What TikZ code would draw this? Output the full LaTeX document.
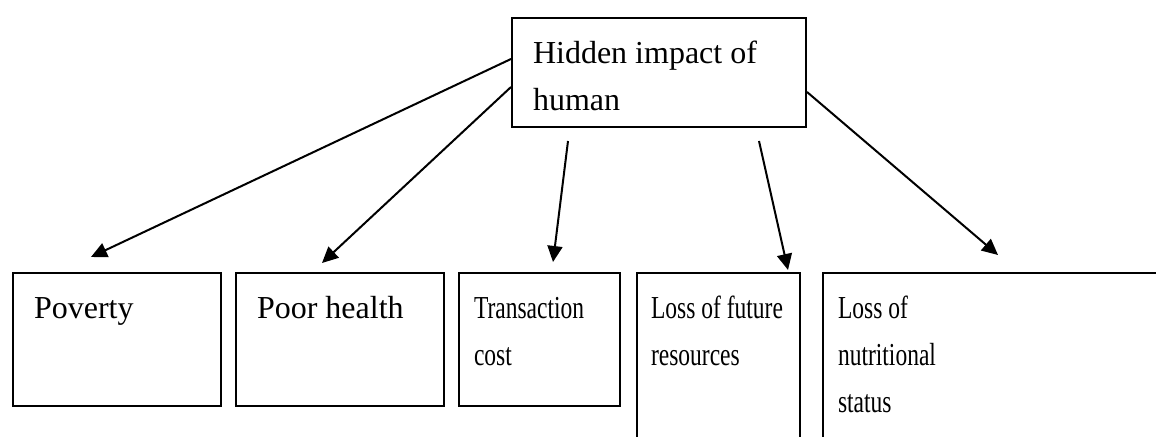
\documentclass[tikz,border=0pt]{standalone}
\usepackage{fontspec}
\setmainfont{Liberation Serif}
\newfontfamily\narrowserif[FakeStretch=0.735]{Liberation Serif}
\usetikzlibrary{arrows.meta,calc}
\newcommand\bxtext[3]{\parbox[b][#2][t]{#1}{\raggedright\rule{0pt}{23pt}#3}}
\begin{document}
\begin{tikzpicture}[x=0.5pt,y=-0.5pt,
  every node/.style={font=\fontsize{16pt}{23.5pt}\selectfont},
  box/.style={draw, line width=1pt, inner ysep=0pt, anchor=north west},
  narrowbox/.style={box, font=\fontsize{16pt}{23.5pt}\selectfont\narrowserif},
  arr/.style={line width=1pt, -{Triangle[length=8pt,width=7.5pt]}}]
\useasboundingbox (0,0) rectangle (1156,437);
\clip (0,0) rectangle (1156,437);
\node[box, inner xsep=10.5pt] (top) at (511,17) {\bxtext{126pt}{54.5pt}{Hidden impact of\\human}};
\node[box, inner xsep=10.5pt] (pov) at (12,272) {\bxtext{83pt}{66.5pt}{Poverty}};
\node[box, inner xsep=10.5pt] (ph) at (235,272) {\bxtext{83pt}{66.5pt}{Poor health}};
\node[narrowbox, inner xsep=7.5pt] (tc) at (458,272) {\bxtext{65.5pt}{66.5pt}{Transaction\\cost}};
\node[narrowbox, inner xsep=7pt] (lf) at (636,272) {\bxtext{67.5pt}{100pt}{Loss of future\\resources}};
\node[narrowbox, inner xsep=7.5pt] (ln) at (822,272) {\bxtext{185pt}{100pt}{Loss of\\nutritional\\status}};
\draw[arr] ($(top.north west)+(0,42)$) -- ($(pov.north west)+(79,-15)$);
\draw[arr] ($(top.north west)+(0,70)$) -- ($(ph.north west)+(87,-9)$);
\draw[arr] ($(top.south west)+(57,13)$) -- ($(tc.north west)+(95,-10)$);
\draw[arr] ($(top.south west)+(248,13)$) -- ($(lf.north west)+(152,-2)$);
\draw[arr] ($(top.north east)+(0,75)$) -- ($(ln.north west)+(176,-17)$);
\end{tikzpicture}
\end{document}
